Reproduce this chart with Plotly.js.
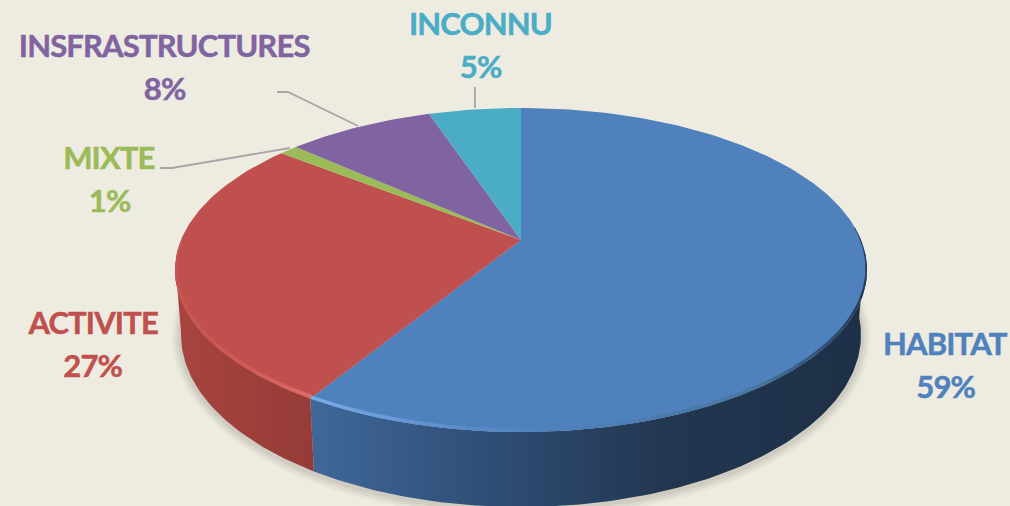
<!DOCTYPE html>
<html>
<head>
<meta charset="utf-8">
<script src="https://cdn.plot.ly/plotly-3.0.1.min.js"></script>
<style>html,body{margin:0;padding:0;background:#EEECE1;overflow:hidden}</style>
</head>
<body>
<div id="chart" style="width:1010px;height:506px"></div>
<script>
// Data
const categories = ['HABITAT', 'ACTIVITE', 'MIXTE', 'INSFRASTRUCTURES', 'INCONNU'];
const values = [59, 27, 1, 8, 5];

// Styles
const sliceColors = ['#4F81BD', '#C0504D', '#9BBB59', '#8064A2', '#4BACC6'];
const labelX = [945, 92, 109, 164, 480];
const nameY = [343, 322, 157, 45, 23];
const valueY = [386, 365, 200, 88, 66];
const FONT = 'Lato, Carlito, Calibri, sans-serif';

// Projection of the tilted disc
const top_ = {cx: 521, cy: 270, rx: 346, ry: 162};
const bot = {cx: 521, cy: 335, rx: 340, ry: 172};
const apex = {x: 521, y: 240};
const persp = 0.855;
const total = values.reduce((a, b) => a + b, 0);
const rad = d => d * Math.PI / 180;
function rimAngle(share) { // share of the pie clockwise from top -> ellipse angle (deg)
  const h = rad(share * 360) / 2;
  return 2 * Math.atan2(persp * Math.sin(h), Math.cos(h)) * 180 / Math.PI;
}
const pt = (e, phi) => [e.cx + e.rx * Math.sin(rad(phi)), e.cy - e.ry * Math.cos(rad(phi))];
function arc(e, a, b) {
  const n = Math.max(2, Math.ceil(Math.abs(b - a)));
  const out = [];
  for (let i = 0; i <= n; i++) out.push(pt(e, a + (b - a) * i / n));
  return out;
}
function poly(points, extra) {
  return Object.assign({
    x: points.map(p => p[0]), y: points.map(p => p[1]), type: 'scatter', mode: 'lines',
    fill: 'toself', line: {width: 0}, hoverinfo: 'skip', showlegend: false
  }, extra);
}
function ring(a, b, e1, e2) { return arc(e1, a, b).concat(arc(e2, b, a)); }

const traces = [];

// Soft contact shadow
[[9, 0.05], [6, 0.07], [3, 0.09]].forEach(([g, o]) => {
  const e = {cx: bot.cx, cy: bot.cy + 2, rx: bot.rx + g, ry: bot.ry + g};
  traces.push(poly(arc(e, 70, 290), {fillcolor: 'rgba(90,85,70,' + o + ')'}));
});

// Slice boundaries
let acc = 0;
const bounds = values.map(v => { const a = rimAngle(acc / total); acc += v; return [a, rimAngle(acc / total)]; });

// Side walls (front half only)
const wallGrad = [
  {from: 84, to: bounds[0][1], stops: [[0, '#3F6899'], [0.3, '#304F78'], [0.65, '#22364F'], [1, '#1E3048']], start: 312, stop: 867},
  {from: bounds[1][0], to: 272, stops: [[0, '#A8443F'], [1, '#953B38']], start: 175, stop: 316}
];
wallGrad.forEach(w => {
  traces.push(poly(ring(w.from, w.to, top_, bot), {
    fillcolor: w.stops[0][1],
    fillgradient: {type: 'horizontal', colorscale: w.stops, start: w.start, stop: w.stop}
  }));
});

// Top face slices
values.forEach((v, i) => {
  const pts = [[apex.x, apex.y]].concat(arc(top_, bounds[i][0], bounds[i][1]));
  traces.push(poly(pts, {fillcolor: sliceColors[i], name: categories[i]}));
});

// Bevel along the front rim
const innerBlue = {cx: top_.cx, cy: top_.cy - 1.5, rx: top_.rx - 1.5, ry: top_.ry - 2};
const innerRed = {cx: top_.cx, cy: top_.cy - 1, rx: top_.rx - 3, ry: top_.ry - 3};
traces.push(poly(ring(75, bounds[0][1], top_, innerBlue), {
  fillcolor: '#4F81BD',
  fillgradient: {type: 'horizontal', start: 312, stop: 867, colorscale: [
    [0, '#7AACEA'], [0.2, '#6193D3'], [0.42, '#4F81BD'], [0.8, '#47769F'], [0.93, '#2F4C70'], [1, '#22364F']]}
}));
traces.push(poly(ring(bounds[1][0], 280, top_, innerRed), {
  fillcolor: '#C0504D',
  fillgradient: {type: 'horizontal', start: 175, stop: 316, colorscale: [
    [0, '#C55350'], [0.5, '#CF5A56'], [1, '#DF6C67']]}
}));

const leaders = [
  {x: [475, 475], y: [87, 108]},
  {x: [277, 288, 358], y: [92, 92, 126]},
  {x: [160, 172, 290], y: [168, 168, 148]}
];
leaders.forEach(l => traces.push({
  x: l.x, y: l.y, type: 'scatter', mode: 'lines',
  line: {color: '#A6A6A6', width: 1.8}, hoverinfo: 'skip', showlegend: false
}));

const labelFont = i => ({family: FONT, size: 31, weight: 700, color: sliceColors[i]});
const annotations = [];
categories.forEach((c, i) => {
  annotations.push({x: labelX[i], y: nameY[i], xref: 'x', yref: 'y', showarrow: false, text: c, font: labelFont(i)});
  annotations.push({x: labelX[i], y: valueY[i], xref: 'x', yref: 'y', showarrow: false, text: values[i] + '%', font: labelFont(i)});
});

const layout = {
  width: 1010, height: 506,
  margin: {l: 0, r: 0, t: 0, b: 0},
  paper_bgcolor: '#EEECE1', plot_bgcolor: '#EEECE1',
  xaxis: {range: [0, 1010], visible: false, fixedrange: true},
  yaxis: {range: [506, 0], visible: false, fixedrange: true},
  showlegend: false, annotations
};
Plotly.newPlot('chart', traces, layout, {displayModeBar: false, responsive: false}).then(() => {
  document.querySelectorAll('.annotation-text').forEach(t => {
    t.style.letterSpacing = '-0.85px';
    t.style.stroke = t.style.fill;
    t.style.strokeWidth = '0.5px';
  });
});
</script>
</body>
</html>
